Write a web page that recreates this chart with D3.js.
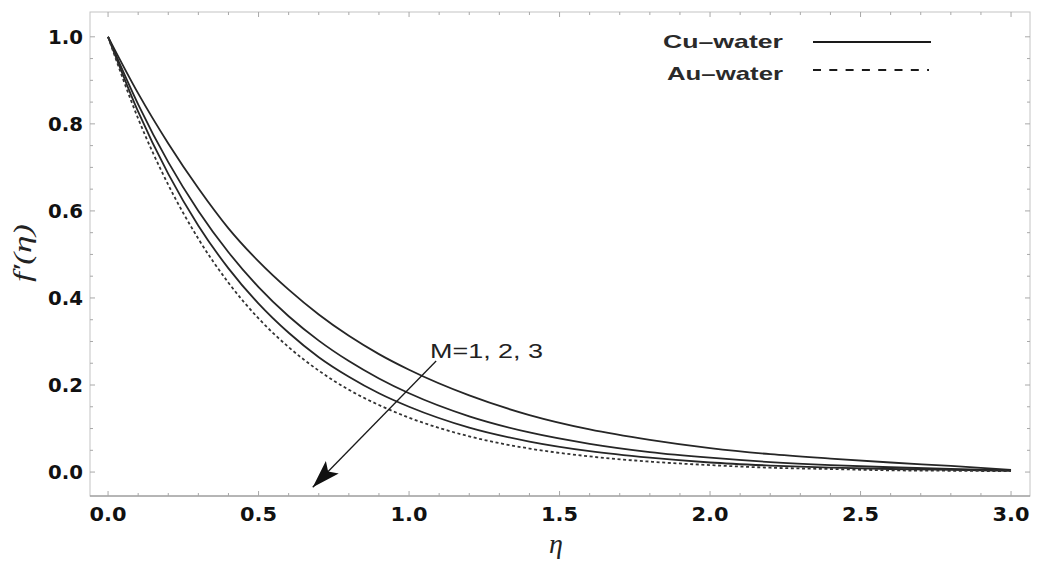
<!DOCTYPE html>
<html>
<head>
<meta charset="utf-8">
<script src="https://cdn.jsdelivr.net/npm/d3@7"></script>
<style>
  html, body { margin: 0; padding: 0; background: #ffffff; }
  svg { display: block; }
</style>
</head>
<body>
<svg id="chart" width="1037" height="562"></svg>
<script>
// Similarity variable η
const eta = [0, 0.1, 0.2, 0.3, 0.4, 0.5, 0.6, 0.7, 0.8, 0.9, 1.0,
             1.2, 1.4, 1.6, 1.8, 2.0, 2.2, 2.4, 2.6, 2.8, 3.0];

// Velocity profiles f'(η), Cu–water, M = 1, 2, 3
const cuM1 = [1.000, 0.870, 0.755, 0.652, 0.560, 0.484, 0.419, 0.362, 0.313, 0.271, 0.235,
              0.176, 0.131, 0.098, 0.074, 0.055, 0.041, 0.031, 0.022, 0.014, 0.005];
const cuM2 = [1.000, 0.845, 0.712, 0.600, 0.505, 0.425, 0.358, 0.302, 0.255, 0.215, 0.181,
              0.128, 0.091, 0.065, 0.046, 0.033, 0.023, 0.016, 0.011, 0.007, 0.004];
const cuM3 = [1.000, 0.828, 0.685, 0.566, 0.468, 0.387, 0.320, 0.264, 0.219, 0.181, 0.150,
              0.102, 0.070, 0.048, 0.033, 0.022, 0.015, 0.010, 0.007, 0.005, 0.003];
// Au–water, M = 3
const auM3 = [1.000, 0.812, 0.660, 0.536, 0.435, 0.353, 0.287, 0.233, 0.189, 0.154, 0.125,
              0.082, 0.054, 0.036, 0.024, 0.016, 0.010, 0.007, 0.004, 0.003, 0.002];

const xTicks = [0, 0.5, 1.0, 1.5, 2.0, 2.5, 3.0];
const yTicks = [0, 0.2, 0.4, 0.6, 0.8, 1.0];
const legendLabels = ["Cu\u2013water", "Au\u2013water"];
const annotation = "M=1, 2, 3";
// arrow from label down through the curves (η, f')
const arrowFrom = [1.09, 0.255];
const arrowTo = [0.68, -0.035];

const svg = d3.select("#chart");
const pLeft = 90, pRight = 1030, pTop = 12, pBottom = 496;

const x = d3.scaleLinear().domain([-0.06, 3.063]).range([pLeft, pRight]);
const y = d3.scaleLinear().domain([-0.055, 1.057]).range([pBottom, pTop]);

const frameColor = "#a8a8a8";

// frame
svg.append("rect")
  .attr("x", pLeft).attr("y", pTop)
  .attr("width", pRight - pLeft).attr("height", pBottom - pTop)
  .attr("fill", "none").attr("stroke", "#c4c4c4").attr("stroke-width", 1);
svg.append("line")
  .attr("x1", pLeft).attr("x2", pRight).attr("y1", pBottom).attr("y2", pBottom)
  .attr("stroke", "#8a8a8a").attr("stroke-width", 1.2);

// frame ticks (major + minor) on all four sides
const xMinor = d3.range(0, 3.0001, 0.1);
const yMinor = d3.range(0, 1.0001, 0.05);
const g = svg.append("g").attr("stroke", frameColor).attr("stroke-width", 1);
xMinor.forEach(v => {
  const major = xTicks.some(t => Math.abs(t - v) < 1e-6);
  const len = major ? 5 : 3;
  g.append("line").attr("x1", x(v)).attr("x2", x(v)).attr("y1", pBottom).attr("y2", pBottom - len);
  g.append("line").attr("x1", x(v)).attr("x2", x(v)).attr("y1", pTop).attr("y2", pTop + len);
});
yMinor.forEach(v => {
  const major = yTicks.some(t => Math.abs(t - v) < 1e-6);
  const len = major ? 5 : 3;
  g.append("line").attr("x1", pLeft).attr("x2", pLeft + len).attr("y1", y(v)).attr("y2", y(v));
  g.append("line").attr("x1", pRight).attr("x2", pRight - len).attr("y1", y(v)).attr("y2", y(v));
});

// tick labels
const tickFont = "'Liberation Sans', Arial, sans-serif";
const heavyFont = "'DejaVu Sans', 'Liberation Sans', sans-serif";
svg.append("g").selectAll("text").data(xTicks).join("text")
  .attr("x", d => x(d)).attr("y", 521)
  .attr("text-anchor", "middle")
  .attr("font-family", heavyFont).attr("font-weight", "bold").attr("font-size", 20)
  .attr("textLength", 37).attr("lengthAdjust", "spacingAndGlyphs")
  .attr("fill", "#111")
  .text(d => d.toFixed(1));
svg.append("g").selectAll("text").data(yTicks).join("text")
  .attr("x", 83).attr("y", d => y(d) + 7)
  .attr("text-anchor", "end")
  .attr("font-family", heavyFont).attr("font-weight", "bold").attr("font-size", 20)
  .attr("textLength", 35).attr("lengthAdjust", "spacingAndGlyphs")
  .attr("fill", "#111")
  .text(d => d.toFixed(1));

// axis titles
svg.append("text")
  .attr("transform", "translate(31,253) rotate(-90)")
  .attr("text-anchor", "middle")
  .attr("font-family", "'Liberation Serif', 'Times New Roman', serif")
  .attr("font-style", "italic").attr("font-size", 26)
  .attr("textLength", 58).attr("lengthAdjust", "spacingAndGlyphs")
  .attr("fill", "#222")
  .text("f\u2032(\u03b7)");
svg.append("text")
  .attr("x", 556).attr("y", 553)
  .attr("text-anchor", "middle")
  .attr("font-family", "'Liberation Serif', 'Times New Roman', serif")
  .attr("font-style", "italic").attr("font-size", 28)
  .attr("fill", "#222")
  .text("\u03b7");

// curves
const line = d3.line()
  .x((d, i) => x(eta[i]))
  .y(d => y(d))
  .curve(d3.curveMonotoneX);

const plot = svg.append("g");
[cuM1, cuM2, cuM3].forEach(s => {
  plot.append("path").datum(s)
    .attr("d", line)
    .attr("fill", "none").attr("stroke", "#262626").attr("stroke-width", 1.8);
});
plot.append("path").datum(auM3)
  .attr("d", line)
  .attr("fill", "none").attr("stroke", "#333").attr("stroke-width", 1.8)
  .attr("stroke-dasharray", "3,2.6");

// legend
const legend = svg.append("g");
legend.append("text")
  .attr("x", 663).attr("y", 48)
  .attr("font-family", tickFont).attr("font-size", 19).attr("font-weight", "bold")
  .attr("textLength", 120).attr("lengthAdjust", "spacingAndGlyphs")
  .attr("fill", "#2a2a2a").text(legendLabels[0]);
legend.append("text")
  .attr("x", 667).attr("y", 80)
  .attr("font-family", tickFont).attr("font-size", 19).attr("font-weight", "bold")
  .attr("textLength", 116).attr("lengthAdjust", "spacingAndGlyphs")
  .attr("fill", "#2a2a2a").text(legendLabels[1]);
legend.append("line")
  .attr("x1", 813).attr("x2", 931).attr("y1", 42).attr("y2", 42)
  .attr("stroke", "#1a1a1a").attr("stroke-width", 1.8);
legend.append("line")
  .attr("x1", 813).attr("x2", 929).attr("y1", 70).attr("y2", 70)
  .attr("stroke", "#1a1a1a").attr("stroke-width", 1.8)
  .attr("stroke-dasharray", "8,8.3");

// annotation with arrow
const defs = svg.append("defs");
defs.append("marker")
  .attr("id", "arrowhead")
  .attr("viewBox", "0 0 28 18")
  .attr("refX", 28).attr("refY", 9)
  .attr("markerWidth", 28).attr("markerHeight", 18)
  .attr("markerUnits", "userSpaceOnUse")
  .attr("orient", "auto")
  .append("path")
  .attr("d", "M0,0 L28,9 L0,18 L6,9 Z")
  .attr("fill", "#111");

svg.append("line")
  .attr("x1", x(arrowFrom[0])).attr("y1", y(arrowFrom[1]))
  .attr("x2", x(arrowTo[0])).attr("y2", y(arrowTo[1]))
  .attr("stroke", "#1a1a1a").attr("stroke-width", 1.3)
  .attr("marker-end", "url(#arrowhead)");

svg.append("text")
  .attr("x", 430).attr("y", 358)
  .attr("font-family", tickFont).attr("font-size", 20)
  .attr("textLength", 113).attr("lengthAdjust", "spacingAndGlyphs")
  .attr("fill", "#222")
  .text(annotation);
</script>
</body>
</html>
